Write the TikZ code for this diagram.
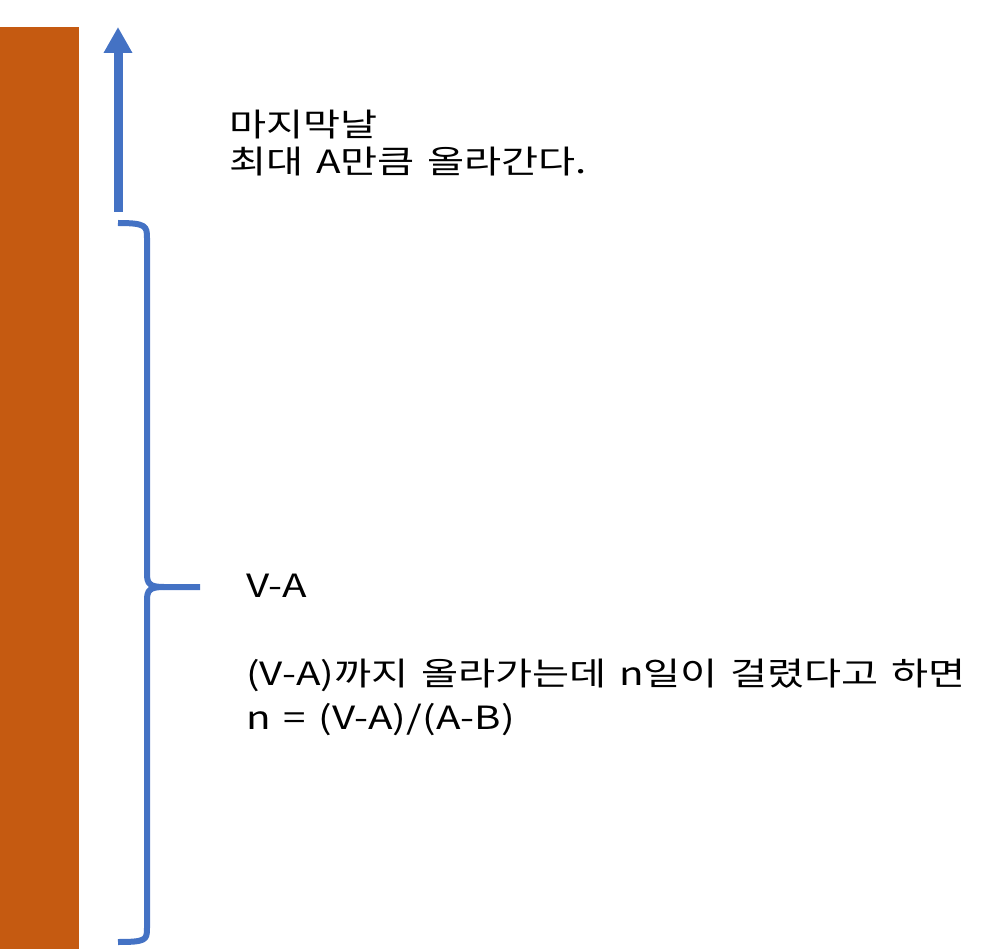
\documentclass[tikz,border=0pt]{standalone}
\usepackage{fontspec}
\setmainfont[FakeStretch=1.26, WordSpace=1.4]{Noto Sans CJK KR}
\usetikzlibrary{arrows.meta}
\definecolor{wallbrown}{HTML}{C55A11}
\definecolor{climbblue}{HTML}{4472C4}
\tikzset{
  brace/.style={draw=climbblue, line width=6pt, line cap=butt, line join=round},
  note/.style={anchor=north west, align=left, inner sep=0pt, font=\fontsize{32}{37}\selectfont}
}
\begin{document}
\begin{tikzpicture}[x=1pt, y=-1pt]
  \useasboundingbox (0,0) rectangle (993,949);
  % 1. 벽
  \fill[wallbrown] (0,27) rectangle (79,949);

  % 2. 마지막날 올라가는 화살표
  \coordinate (up0) at (118,212);
  \coordinate (up1) at (118,27);
  \draw[climbblue, line width=9pt, -{Triangle[width=27pt, length=26pt]}] (up0) -- (up1);

  % 3. 중괄호 (V-A 구간)
  \coordinate (bt) at (118,223);
  \coordinate (bm) at (200,587);
  \coordinate (bb) at (118,942);
  \draw[brace] (bt) .. controls (146,223) and (147,226) .. (147,238) -- (147,574)
    .. controls (147,584) and (150,587) .. (164,587) -- (bm);
  \draw[brace] (164,587) .. controls (150,587) and (147,590) .. (147,600) -- (147,928)
    .. controls (147,940) and (146,942) .. (bb);

  % 4. 글
  \node[note] (last) at (229,110) {마지막날\\최대 A만큼 올라간다.};
  \node[note, anchor=west] (va) at (246,586) {V-A};
  \node[note, font=\fontsize{32}{44}\selectfont] (days) at (246,659)
    {(V-A)까지 올라가는데 n일이 걸렸다고 하면\\n = (V-A)/(A-B)};
\end{tikzpicture}
\end{document}
